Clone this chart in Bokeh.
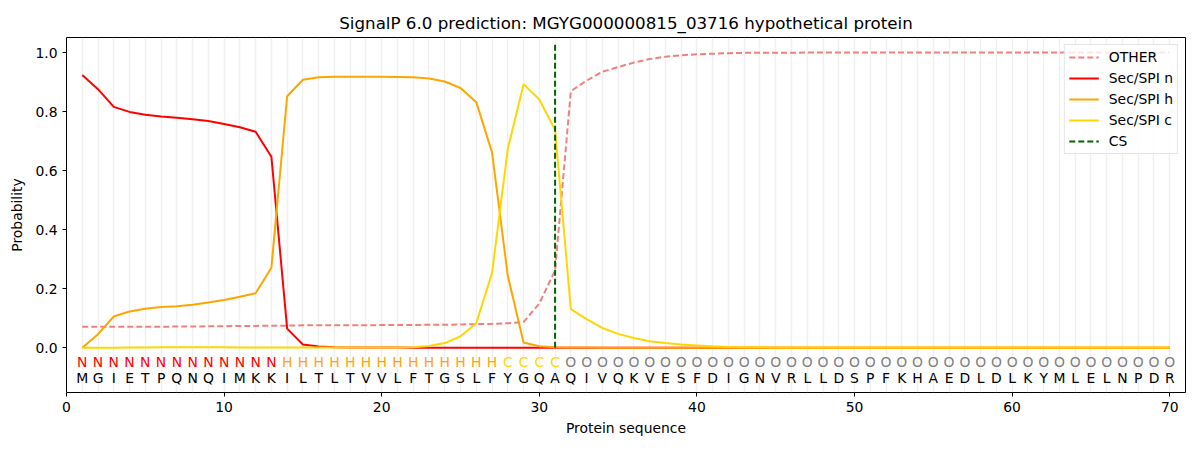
from bokeh.plotting import figure
from bokeh.models import Legend, LegendItem, FixedTicker, ColumnDataSource, Range1d
from bokeh.core.properties import value
from bokeh.embed import file_html
from bokeh.resources import INLINE

title_text = "SignalP 6.0 prediction: MGYG000000815_03716 hypothetical protein"
sequence = list("MGIETPQNQIMKKILTLTVVLFTGSLFYGQAQIVQKVESFDIGNVRLLDSPFKHAEDLDLKYMLELNPDR")
region_labels = list("N" * 13 + "H" * 14 + "C" * 4 + "O" * 39)
positions = list(range(1, len(sequence) + 1))

other = [0.071, 0.071, 0.071, 0.071, 0.071, 0.071, 0.072, 0.072, 0.073, 0.073,
         0.074, 0.074, 0.075, 0.075, 0.076, 0.076, 0.076, 0.076, 0.076, 0.077,
         0.077, 0.077, 0.078, 0.078, 0.079, 0.080, 0.081, 0.083, 0.087, 0.150,
         0.262, 0.869, 0.905, 0.935, 0.951, 0.966, 0.978, 0.986, 0.991, 0.994,
         0.996, 0.998, 0.999, 0.999, 0.999, 0.999, 1.0, 1.0, 1.0, 1.0,
         1.0, 1.0, 1.0, 1.0, 1.0, 1.0, 1.0, 1.0, 1.0, 1.0,
         1.0, 1.0, 1.0, 1.0, 1.0, 1.0, 1.0, 1.0, 1.0, 1.0]
sec_n = [0.924, 0.876, 0.816, 0.799, 0.789, 0.783, 0.779, 0.774, 0.768, 0.758,
         0.747, 0.732, 0.647, 0.065, 0.011, 0.004, 0.002, 0.001, 0.001, 0.001,
         0.001, 0.0005, 0.0005, 0.0, 0.0, 0.0, 0.0, 0.0, 0.0, 0.0,
         0.0, 0.0, 0.0, 0.0, 0.0, 0.0, 0.0, 0.0, 0.0, 0.0,
         0.0, 0.0, 0.0, 0.0, 0.0, 0.0, 0.0, 0.0, 0.0, 0.0,
         0.0, 0.0, 0.0, 0.0, 0.0, 0.0, 0.0, 0.0, 0.0, 0.0,
         0.0, 0.0, 0.0, 0.0, 0.0, 0.0, 0.0, 0.0, 0.0, 0.0]
sec_h = [0.0, 0.046, 0.106, 0.123, 0.132, 0.138, 0.141, 0.146, 0.153, 0.162,
         0.173, 0.185, 0.271, 0.852, 0.908, 0.916, 0.918, 0.918, 0.918, 0.918,
         0.917, 0.916, 0.912, 0.902, 0.880, 0.832, 0.662, 0.244, 0.018, 0.005,
         0.002, 0.001, 0.001, 0.0005, 0.0005, 0.0, 0.0, 0.0, 0.0, 0.0,
         0.0, 0.0, 0.0, 0.0, 0.0, 0.0, 0.0, 0.0, 0.0, 0.0,
         0.0, 0.0, 0.0, 0.0, 0.0, 0.0, 0.0, 0.0, 0.0, 0.0,
         0.0, 0.0, 0.0, 0.0, 0.0, 0.0, 0.0, 0.0, 0.0, 0.0]
sec_c = [0.0, 0.0, 0.0, 0.001, 0.001, 0.002, 0.002, 0.002, 0.002, 0.002,
         0.001, 0.001, 0.001, 0.001, 0.001, 0.001, 0.001, 0.001, 0.001, 0.001,
         0.001, 0.002, 0.006, 0.016, 0.039, 0.083, 0.253, 0.673, 0.893, 0.841,
         0.738, 0.131, 0.097, 0.067, 0.047, 0.033, 0.022, 0.016, 0.011, 0.008,
         0.005, 0.003, 0.002, 0.0015, 0.001, 0.001, 0.001, 0.001, 0.001, 0.001,
         0.001, 0.001, 0.001, 0.001, 0.001, 0.001, 0.001, 0.001, 0.001, 0.001,
         0.001, 0.001, 0.001, 0.001, 0.001, 0.001, 0.001, 0.001, 0.001, 0.001]
cs_position = 31
cs_top = 1.035

x_ticks = [0, 10, 20, 30, 40, 50, 60, 70]
y_ticks = [0.0, 0.2, 0.4, 0.6, 0.8, 1.0]
y_tick_labels = ["0.0", "0.2", "0.4", "0.6", "0.8", "1.0"]

region_colors = {"N": "red", "H": "orange", "C": "gold", "O": "grey"}
FONT = "DejaVu Sans"
FS = "13.9px"

p = figure(width=1192, height=442, output_backend="svg", toolbar_location=None,
           x_range=Range1d(0, 71), y_range=Range1d(-0.1515, 1.051),
           min_border_left=66, min_border_right=7, min_border_top=37, min_border_bottom=50)
p.title.text = title_text
p.title.align = "center"
p.title.text_font = FONT
p.title.text_font_size = "16.7px"
p.title.text_font_style = "normal"
p.title.text_color = "black"

p.xgrid.visible = False
p.ygrid.visible = False
p.outline_line_color = "black"
p.outline_line_width = 1
p.background_fill_color = "white"
p.border_fill_color = "white"

# residue grid lines
p.vspan(x=positions, line_color="#d9d9d9", line_alpha=0.4, line_width=1.5)

l_other = p.line(positions, other, line_color="lightcoral", line_width=2, line_dash="6 3")
l_n = p.line(positions, sec_n, line_color="red", line_width=2)
l_h = p.line(positions, sec_h, line_color="orange", line_width=2)
l_c = p.line(positions, sec_c, line_color="gold", line_width=2)
l_cs = p.line([cs_position, cs_position], [0, cs_top], line_color="darkgreen",
              line_width=2, line_dash="6 3")

src = ColumnDataSource(dict(
    x=positions,
    seq=sequence,
    reg=region_labels,
    col=[region_colors[r] for r in region_labels],
    yr=[-0.047] * len(positions),
    ys=[-0.101] * len(positions),
))
p.text(x="x", y="yr", text="reg", text_color="col", source=src,
       text_align="center", text_baseline="middle",
       text_font=value(FONT), text_font_size=FS)
p.text(x="x", y="ys", text="seq", text_color="black", source=src,
       text_align="center", text_baseline="middle",
       text_font=value(FONT), text_font_size=FS)

for ax in (p.xaxis[0], p.yaxis[0]):
    ax.axis_line_color = None
    ax.minor_tick_line_color = None
    ax.major_tick_in = 0
    ax.major_tick_out = 4
    ax.major_tick_line_color = "black"
    ax.major_label_text_font = FONT
    ax.major_label_text_font_size = FS
    ax.major_label_text_color = "black"
    ax.axis_label_text_font = FONT
    ax.axis_label_text_font_size = FS
    ax.axis_label_text_font_style = "normal"
    ax.axis_label_text_color = "black"

p.xaxis[0].ticker = FixedTicker(ticks=x_ticks)
p.xaxis[0].axis_label = "Protein sequence"
p.xaxis[0].axis_label_standoff = 5
p.yaxis[0].ticker = FixedTicker(ticks=y_ticks)
p.yaxis[0].major_label_overrides = {t: s for t, s in zip(y_ticks, y_tick_labels)}
p.yaxis[0].axis_label = "Probability"
p.yaxis[0].axis_label_standoff = 7

legend = Legend(items=[
    LegendItem(label="OTHER", renderers=[l_other]),
    LegendItem(label="Sec/SPI n", renderers=[l_n]),
    LegendItem(label="Sec/SPI h", renderers=[l_h]),
    LegendItem(label="Sec/SPI c", renderers=[l_c]),
    LegendItem(label="CS", renderers=[l_cs]),
], location="top_right")
legend.label_text_font = FONT
legend.label_text_font_size = FS
legend.label_text_color = "black"
legend.label_standoff = 10
legend.glyph_width = 30
legend.glyph_height = 14
legend.label_height = 14
legend.spacing = 5
legend.padding = 4
legend.margin = 7
legend.border_line_color = "#cccccc"
legend.background_fill_alpha = 0.8
p.add_layout(legend)

open("out.html", "w").write(file_html(p, INLINE))
